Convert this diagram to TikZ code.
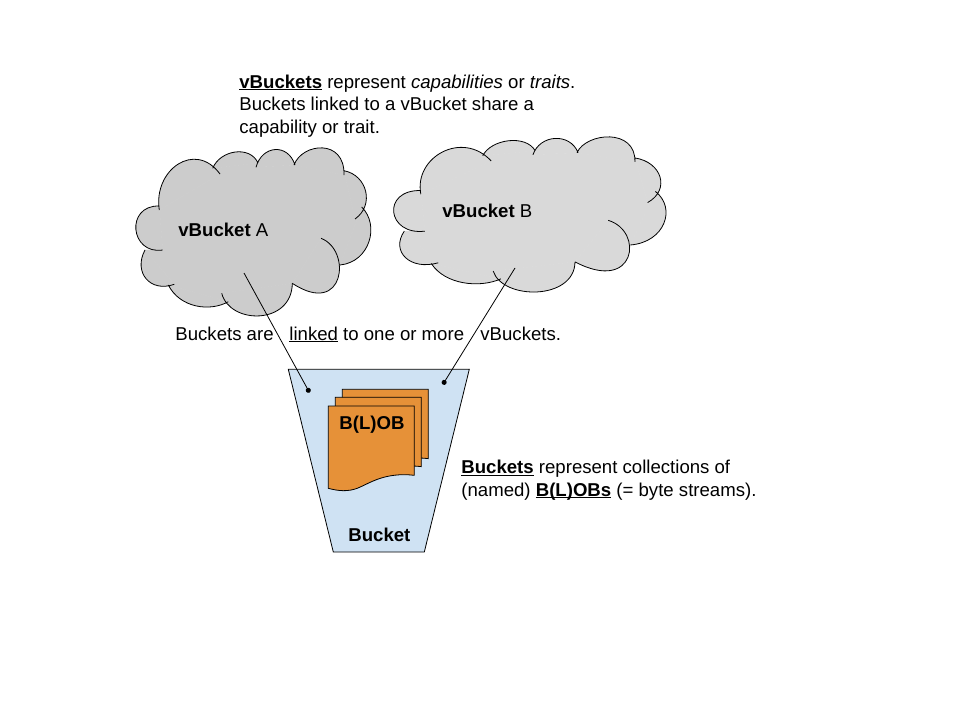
\documentclass[tikz,border=0pt]{standalone}
\usepackage{fontspec}
\setmainfont{Liberation Sans}
\usetikzlibrary{arrows.meta}

\definecolor{cloudA}{HTML}{CCCCCC}
\definecolor{cloudB}{HTML}{D9D9D9}
\definecolor{bucketblue}{HTML}{CFE2F3}
\definecolor{bloborange}{HTML}{E69138}

\newcommand{\ul}[1]{\underline{\smash{#1}}}
\newcommand{\cloudlobes}{
  (159.3,210) .. controls (153,170) and (195,140) .. (220,174)
  (212.7,168.3) .. controls (220,150) and (250,145) .. (258,163)
  (256,167.3) .. controls (262,145) and (288,143) .. (295,165)
  (294,165) .. controls (302,143) and (345,138) .. (344,175)
  (344,170.7) .. controls (367,175) and (375,205) .. (355,219)
  (361.7,207) .. controls (380,225) and (370,262) .. (340,265)
  (321,238.3) .. controls (352,250) and (345,318) .. (292.3,283.3)
  (292.3,283.3) .. controls (292,325) and (230,325) .. (221.7,293.3)
  (228.3,301.7) .. controls (210,312) and (180,308) .. (168.3,285)
  (174.3,284.3) .. controls (150,293) and (133,272) .. (145,250)
  (162.7,250) .. controls (130,255) and (125,205) .. (159.3,206)
}
\newcommand{\cloudbody}{
  (159.3,210) -- (220,174) -- (212.7,168.3) -- (258,163) -- (256,167.3) -- (295,165)
  -- (344,175) -- (344,170.7) -- (355,219) -- (361.7,207) -- (340,265) -- (321,238.3)
  -- (292.3,283.3) -- (221.7,293.3) -- (228.3,301.7) -- (168.3,285) -- (174.3,284.3)
  -- (145,250) -- (162.7,250) -- (159.3,206) -- cycle
}
\newcommand{\blobpage}{
  (328.3,406) -- (414.3,406) -- (414.3,475.3)
  .. controls (385,472) and (370,483) .. (358,488)
  .. controls (348,492) and (338,491) .. (328.3,488.3) -- cycle
}

\begin{document}
\begin{tikzpicture}[x=1pt,y=-1pt,line width=.8pt,
    every node/.style={inner sep=0pt,anchor=base west,font=\fontsize{18.6}{22.5}\selectfont},
    outline/.style={draw=black,fill=bloborange}]
  \useasboundingbox (0,0) rectangle (960,720);

  \fill[cloudA] \cloudlobes;
  \draw[cloudA,fill=cloudA] \cloudbody;
  \draw \cloudlobes;

  \begin{scope}[shift={(395,137)},xscale=1.159,yscale=.923,shift={(-137,-148)}]
    \fill[cloudB] \cloudlobes;
    \draw[cloudB,fill=cloudB] \cloudbody;
    \draw \cloudlobes;
  \end{scope}

  \draw[fill=bucketblue] (288.3,369.3) -- (469.3,369.3) -- (424.3,552) -- (333.3,552) -- cycle;

  \draw[outline,shift={(14,-16.7)}] \blobpage;
  \draw[outline,shift={(7,-8.7)}] \blobpage;
  \draw[outline] \blobpage;

  \node[align=left] (note) at (239,133) {\textbf{\ul{vBuckets}} represent \textit{capabilities} or \textit{traits}.\\
    Buckets linked to a vBucket share a\\capability or trait.};
  \node (nameA) at (178,236) {\textbf{vBucket} A};
  \node (nameB) at (442,217) {\textbf{vBucket} B};
  \node (linkone) at (175,340) {Buckets are};
  \node (linktwo) at (289,340) {\ul{linked} to one or more};
  \node (linkthree) at (480,340) {vBuckets.};
  \node (blob) at (339,429) {\textbf{B(L)OB}};
  \node (bucket) at (348,541) {\textbf{Bucket}};
  \node[align=left] (bucketnote) at (461,496) {\textbf{\ul{Buckets}} represent collections of\\
    (named) \textbf{\ul{B(L)OBs}} (= byte streams).};

  \coordinate (fromA) at (244,273);
  \coordinate (toA) at (309.5,392.5);
  \coordinate (fromB) at (515,268);
  \coordinate (toB) at (442.8,384.5);
  \draw[-{Circle[length=5pt]}] (fromA) -- (toA);
  \draw[-{Circle[length=5pt]}] (fromB) -- (toB);

\end{tikzpicture}
\end{document}
